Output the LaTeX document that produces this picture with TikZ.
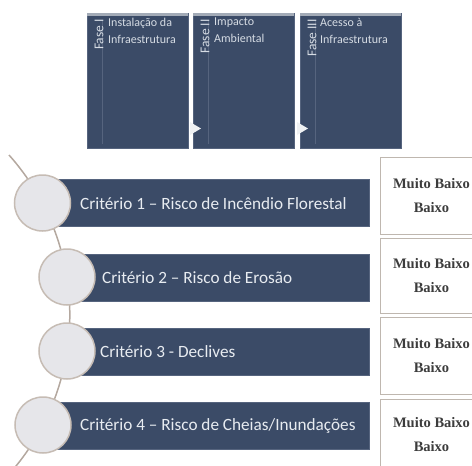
\documentclass[tikz,border=0pt]{standalone}
\usepackage{fontspec}
\setmainfont{Carlito}
\newfontfamily\cellfont{Liberation Serif}
\definecolor{navy}{HTML}{3B4B67}
\definecolor{navyedge}{HTML}{56647E}
\definecolor{stripc}{HTML}{A3ABB7}
\definecolor{toptxt}{HTML}{D6DCE4}
\definecolor{bartxt}{HTML}{E8ECF1}
\definecolor{circfill}{HTML}{E6E6EA}
\definecolor{circedge}{HTML}{C6BCB4}
\definecolor{spinec}{HTML}{B4A89F}
\definecolor{celledge}{HTML}{BFB7AF}
\definecolor{celltxt}{HTML}{3C3C3C}
\begin{document}
\begin{tikzpicture}[x=1pt,y=-1pt,
  phasebox/.style={draw=navyedge, fill=navy, line width=0.6pt, anchor=north west,
    minimum width=101pt, minimum height=135pt, inner sep=0pt},
  phaselabel/.style={rotate=90, anchor=east, inner sep=0pt, text=toptxt,
    font=\fontsize{13.5}{15}\selectfont},
  phasetext/.style={anchor=north west, align=left, inner sep=0pt, text=toptxt,
    font=\fontsize{12}{17}\selectfont},
  barbox/.style={draw=navyedge, fill=navy, line width=0.6pt, anchor=east,
    minimum height=47pt, inner sep=0pt},
  bartext/.style={anchor=west, inner sep=0pt, text=bartxt,
    font=\fontsize{17.2}{20}\selectfont},
  circbox/.style={circle, draw=circedge, fill=circfill, line width=1.5pt,
    minimum size=56pt, inner sep=0pt},
  cellbox/.style={draw=celledge, fill=white, line width=1pt, anchor=north west,
    minimum width=102pt, inner sep=0pt, align=center, text=celltxt,
    font=\cellfont\bfseries\fontsize{14.5}{24}\selectfont},
  arrowtri/.style={fill=white!92!navy}
]
\useasboundingbox (0,0) rectangle (472,466);

% ---- top phase boxes ----
\node[phasebox] (p1) at (87,13) {};
\node[phasebox] (p2) at (193,13) {};
\node[phasebox] (p3) at (300,13) {};
\foreach \x in {87,193,300}{
  \fill[stripc] (\x,13) rectangle ++(101,3);
  \draw[navyedge, line width=0.5pt] (\x+15,20) -- (\x+15,144);
}
\node[phaselabel] (f1) at (99,19) {Fase I};
\node[phaselabel] (f2) at (205,19) {Fase II};
\node[phaselabel] (f3) at (312,19) {Fase III};
\node[phasetext] (t1) at (108,18) {Instalação da\\Infraestrutura};
\node[phasetext] (t2) at (214,18) {Impacto\\Ambiental};
\node[phasetext] (t3) at (320,18) {Acesso à\\Infraestrutura};
\fill[arrowtri] (190,122) -- (190,135) -- (201,128.5) -- cycle;
\fill[arrowtri] (297,122) -- (297,135) -- (308,128.5) -- cycle;

% ---- spine ----
\coordinate (spinetop) at (9,155);
\draw[spinec, line width=1.5pt] (spinetop) arc[start angle=-41.7, end angle=39.2, radius=240];

% ---- criteria bars ----
\node[barbox, minimum width=328pt] (b1) at (370,203) {};
\node[barbox, minimum width=303pt] (b2) at (370,277.5) {};
\node[barbox, minimum width=303pt] (b3) at (370,351.5) {};
\node[barbox, minimum width=328pt] (b4) at (370,425.5) {};

\node[circbox] (c1) at (42.5,203) {};
\node[circbox] (c2) at (67,277) {};
\node[circbox] (c3) at (67,351) {};
\node[circbox] (c4) at (43,425) {};

\node[bartext] (l1) at (80,204) {Critério 1 – Risco de Incêndio Florestal};
\node[bartext] (l2) at (102,278) {Critério 2 – Risco de Erosão};
\node[bartext] (l3) at (100,352) {Critério 3 - Declives};
\node[bartext] (l4) at (80,426) {Critério 4 – Risco de Cheias/Inundações};

% ---- right cells ----
\node[cellbox, minimum height=77pt] (r1) at (380,157) {Muito Baixo\\Baixo};
\node[cellbox, minimum height=75pt] (r2) at (380,238) {Muito Baixo\\Baixo};
\node[cellbox, minimum height=77pt] (r3) at (380,317) {Muito Baixo\\Baixo};
\node[cellbox, minimum height=70pt] (r4) at (380,399) {Muito Baixo\\Baixo};
\end{tikzpicture}
\end{document}
